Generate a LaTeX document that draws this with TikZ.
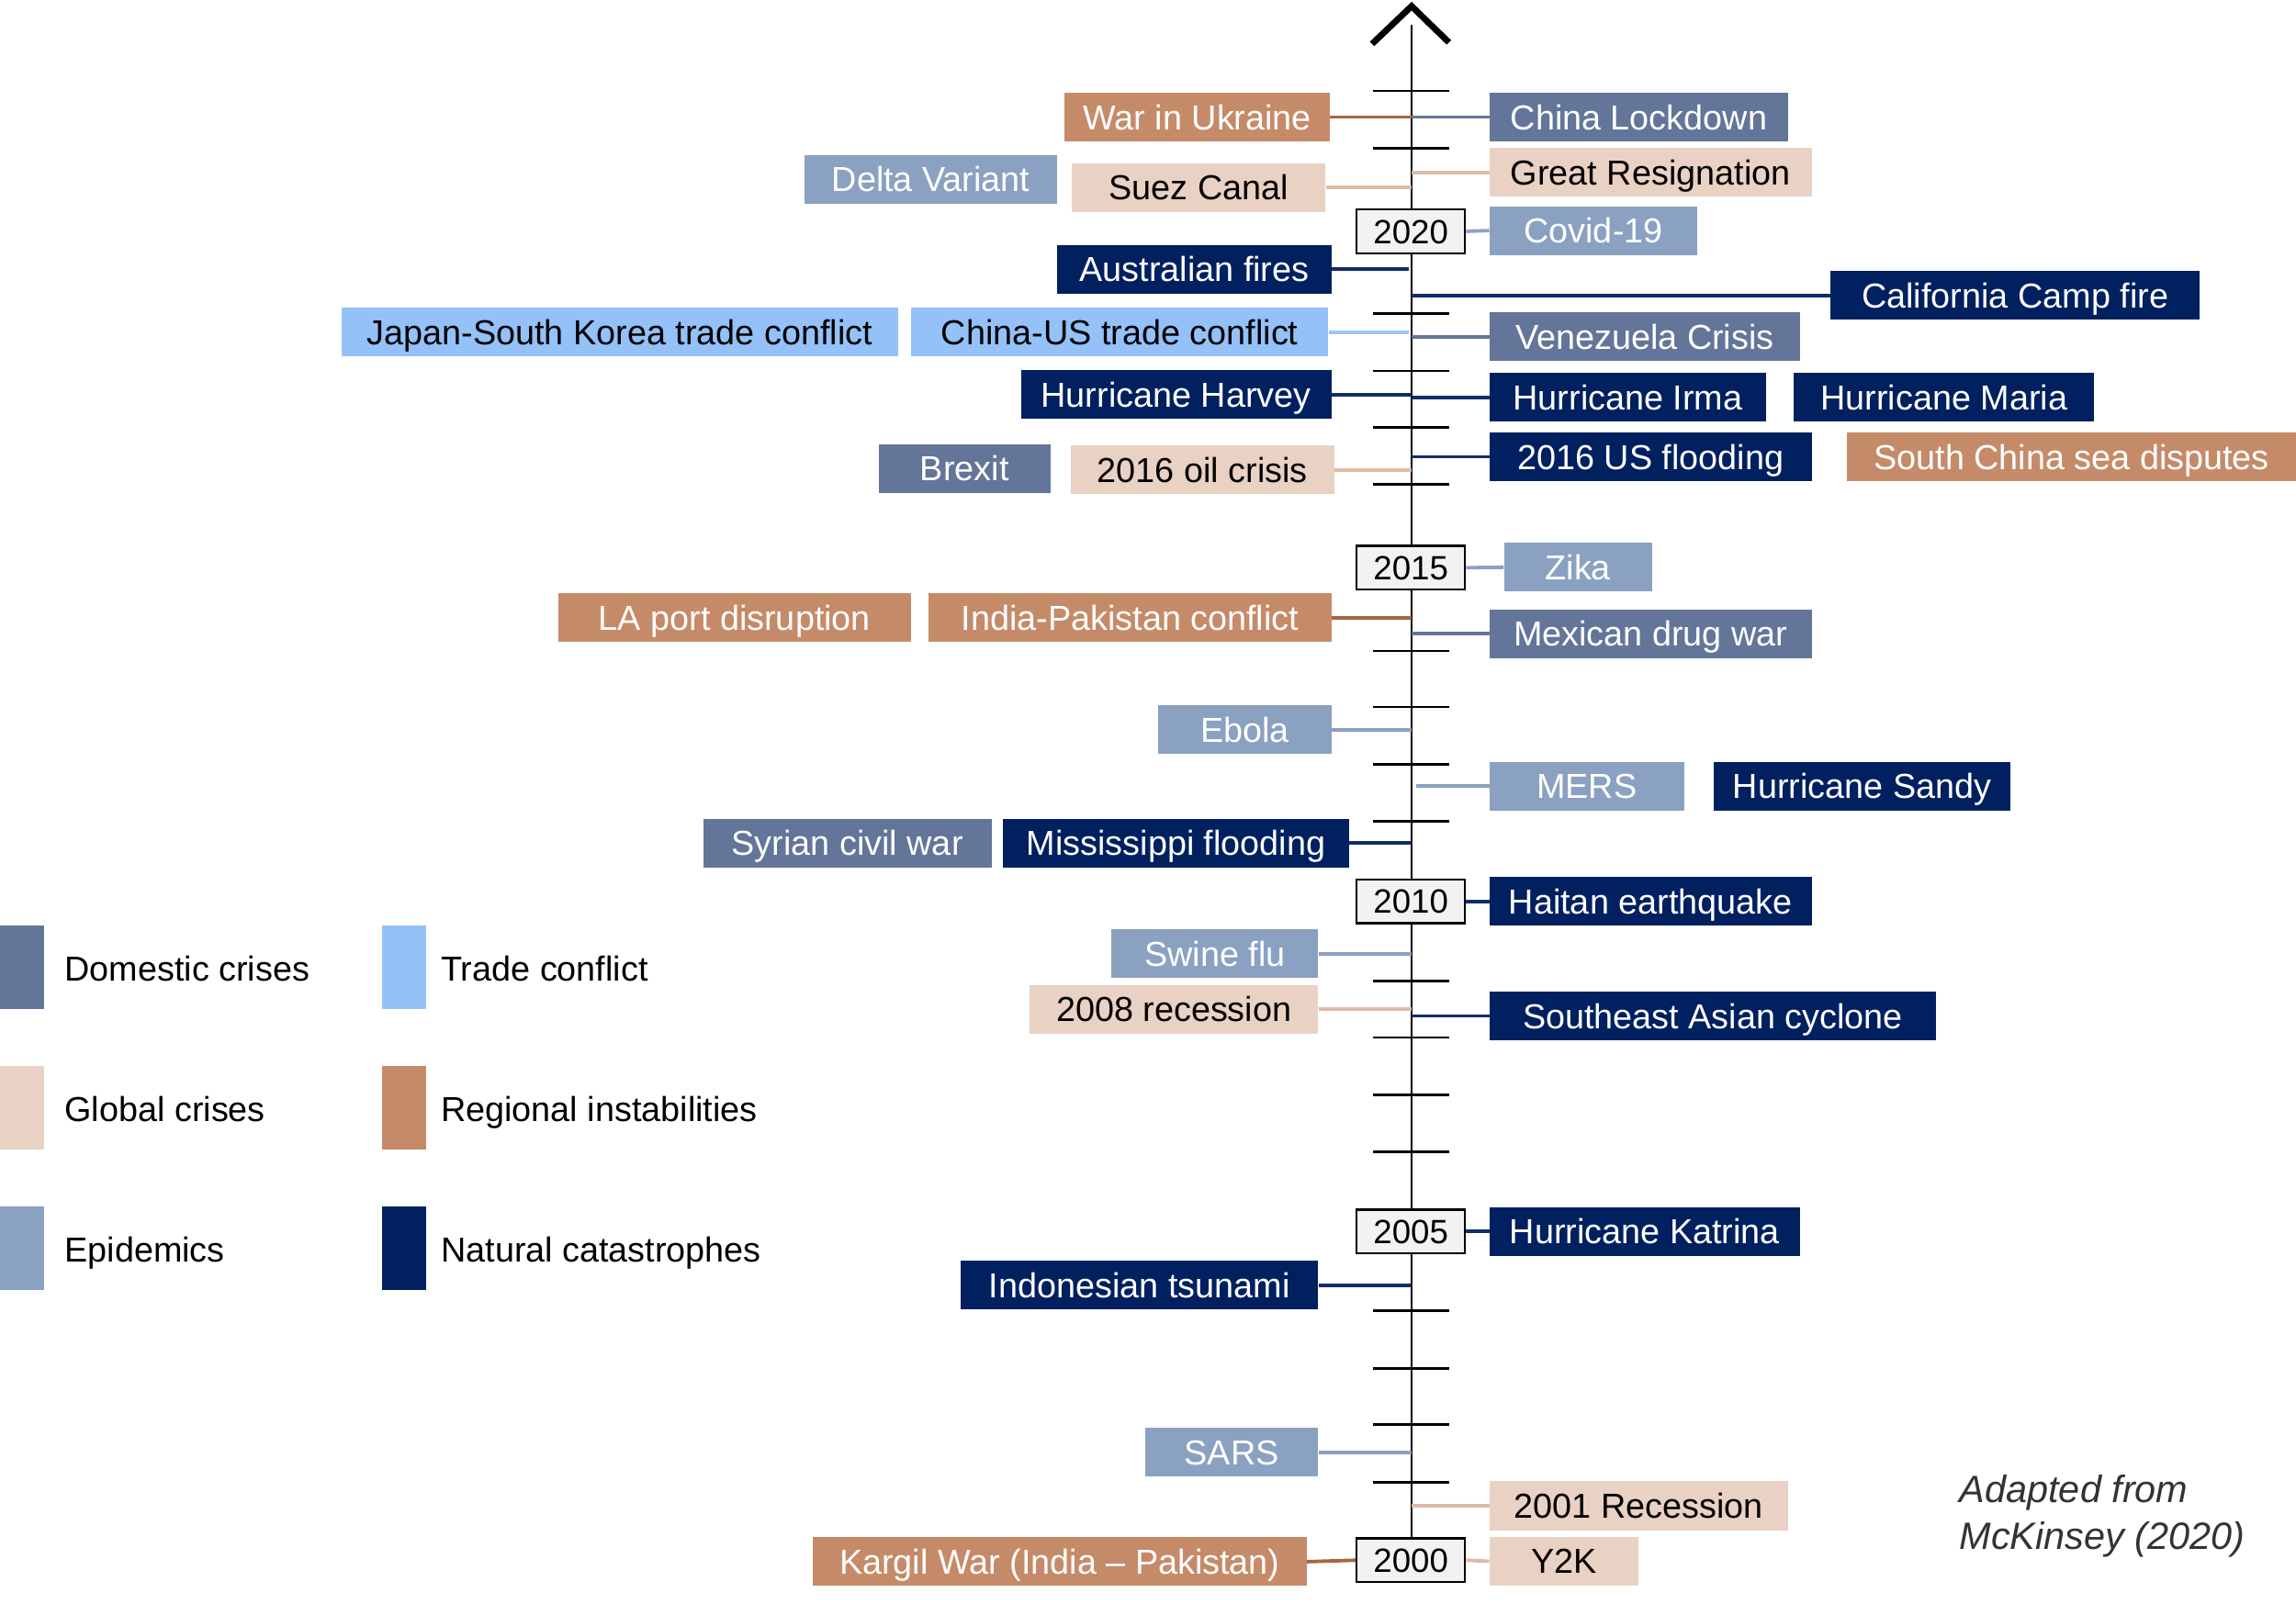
\documentclass[tikz,border=0pt]{standalone}
\usepackage{fontspec}
\setmainfont{Liberation Sans}
\definecolor{cdom}{RGB}{99,117,153}
\definecolor{cglob}{RGB}{233,209,195}
\definecolor{cepi}{RGB}{139,161,193}
\definecolor{ctrade}{RGB}{147,193,248}
\definecolor{creg}{RGB}{197,139,105}
\definecolor{cnat}{RGB}{0,32,96}
\definecolor{lglob}{RGB}{222,186,166}
\definecolor{ltrade}{RGB}{155,200,245}
\definecolor{lreg}{RGB}{166,102,66}
\definecolor{lnat}{RGB}{16,44,106}
\definecolor{cattr}{RGB}{51,51,51}
\tikzset{
  ev/.style={rectangle, inner sep=0pt, minimum height=33.3pt, anchor=west,
    font=\fontsize{23.7}{28}\selectfont, text height=17pt, text depth=0pt},
  dom/.style={ev, fill=cdom, text=white},
  glob/.style={ev, fill=cglob, text=black},
  epi/.style={ev, fill=cepi, text=white},
  trade/.style={ev, fill=ctrade, text=black},
  reg/.style={ev, fill=creg, text=white},
  nat/.style={ev, fill=cnat, text=white},
  conn/.style={line width=2.4pt},
  cdomline/.style={conn, draw=cdom},
  cglobline/.style={conn, draw=lglob},
  cepiline/.style={conn, draw=cepi},
  ctradeline/.style={conn, draw=ltrade},
  cregline/.style={conn, draw=lreg},
  cnatline/.style={conn, draw=lnat},
  yearbox/.style={rectangle, draw=black, line width=1.5pt, fill=black!5,
    minimum width=74pt, minimum height=30pt, inner sep=0pt,
    font=\fontsize{23}{28}\selectfont, text height=16.5pt, text depth=0pt},
  tickline/.style={line width=1.8pt, draw=black},
  legsq/.style={rectangle, inner sep=0pt, minimum width=30pt, minimum height=57pt, anchor=north west},
  legtxt/.style={anchor=west, inner sep=0pt, font=\fontsize{23.7}{28}\selectfont, text height=17pt, text depth=0pt},
  attr/.style={anchor=base west, inner sep=0pt, text=cattr, font=\fontsize{26}{30}\selectfont\itshape}
}
\begin{document}
\begin{tikzpicture}[x=1pt,y=-1pt]
\useasboundingbox (0,0) rectangle (1568,1095.1);
% axis
\coordinate (axtop) at (964,17);
\coordinate (axbot) at (964,1051);
\draw[line width=1.8pt] (axtop) -- (axbot);
\foreach \yy in {62.1,101.4,214.3,253.4,291.9,330.7,444.7,482.9,522.2,560.9,670,708.7,748,786.7,895.4,934.9,973.2,1012.5}
  \draw[tickline] (937.7,\yy) -- (989.7,\yy);
\draw[line width=4.3pt, miter limit=10] (937,30) -- (964,4.2) -- (989.5,29);
% year boxes
\node[yearbox] (y2020) at (963.5,158) {2020};
\node[yearbox] (y2015) at (963.5,387.8) {2015};
\node[yearbox] (y2010) at (963.5,615.7) {2010};
\node[yearbox] (y2005) at (963.5,841.3) {2005};
\node[yearbox] (y2000) at (963.5,1065.8) {2000};
% left events
\node[reg, minimum width=181pt] (war) at (727,80) {War in Ukraine};
\node[epi, minimum width=173pt] (delta) at (549,122.5) {Delta Variant};
\node[glob, minimum width=173pt] (suez) at (732,128) {Suez Canal};
\node[nat, minimum width=187pt] (ausfires) at (722,184) {Australian fires};
\node[trade, minimum width=380pt] (japan) at (233,227) {Japan-South Korea trade conflict};
\node[trade, minimum width=285pt] (chinaus) at (622,227) {China-US trade conflict};
\node[nat, minimum width=212pt] (harvey) at (697,269.5) {Hurricane Harvey};
\node[dom, minimum width=117pt] (brexit) at (600,320) {Brexit};
\node[glob, minimum width=180pt] (oil) at (731,321) {2016 oil crisis};
\node[reg, minimum width=241pt] (laport) at (381,422) {LA port disruption};
\node[reg, minimum width=275pt] (indiapak) at (634,422) {India-Pakistan conflict};
\node[epi, minimum width=118pt] (ebola) at (791,498.5) {Ebola};
\node[dom, minimum width=197pt] (syrian) at (480,576) {Syrian civil war};
\node[nat, minimum width=236pt] (miss) at (685,576) {Mississippi flooding};
\node[epi, minimum width=141pt] (swine) at (759,651.5) {Swine flu};
\node[glob, minimum width=197pt] (rec2008) at (703,689.5) {2008 recession};
\node[nat, minimum width=244pt] (indon) at (656,878) {Indonesian tsunami};
\node[epi, minimum width=118pt] (sars) at (782,992) {SARS};
\node[reg, minimum width=337pt] (kargil) at (555,1066.8) {Kargil War (India -- Pakistan)};
% right events
\node[dom, minimum width=204pt] (chinalock) at (1017,80) {China Lockdown};
\node[glob, minimum width=220pt] (greatres) at (1017,117.7) {Great Resignation};
\node[epi, minimum width=142pt] (covid) at (1017,157.5) {Covid-19};
\node[nat, minimum width=252pt] (calif) at (1250,201.7) {California Camp fire};
\node[dom, minimum width=212pt] (venez) at (1017,230) {Venezuela Crisis};
\node[nat, minimum width=189pt] (irma) at (1017,271.4) {Hurricane Irma};
\node[nat, minimum width=205pt] (maria) at (1225,271.4) {Hurricane Maria};
\node[nat, minimum width=220pt] (usflood) at (1017,312) {2016 US flooding};
\node[reg, minimum width=307pt] (scs) at (1261,312) {South China sea disputes};
\node[epi, minimum width=101pt] (zika) at (1027,387.5) {Zika};
\node[dom, minimum width=220pt] (mexican) at (1017,433) {Mexican drug war};
\node[epi, minimum width=133pt] (mers) at (1017,537) {MERS};
\node[nat, minimum width=203pt] (sandy) at (1170,537) {Hurricane Sandy};
\node[nat, minimum width=220pt] (haitan) at (1017,615.7) {Haitan earthquake};
\node[nat, minimum width=305pt] (seasian) at (1017,694) {Southeast Asian cyclone};
\node[nat, minimum width=212pt] (katrina) at (1017,841.3) {Hurricane Katrina};
\node[glob, minimum width=204pt] (rec2001) at (1017,1028.6) {2001 Recession};
\node[glob, minimum width=102pt] (y2k) at (1017,1066.5) {Y2K};
% left connectors
\draw[cregline] (war.east) -- (war.east -| axtop);
\draw[cglobline] (suez.east) -- (suez.east -| axtop);
\draw[cnatline] (ausfires.east) -- ([xshift=-2pt]ausfires.east -| axtop);
\draw[ctradeline] (chinaus.east) -- ([xshift=-2pt]chinaus.east -| axtop);
\draw[cnatline] (harvey.east) -- (harvey.east -| axtop);
\draw[cglobline] (oil.east) -- (oil.east -| axtop);
\draw[cregline] (indiapak.east) -- (indiapak.east -| axtop);
\draw[cepiline] (ebola.east) -- (ebola.east -| axtop);
\draw[cnatline] (miss.east) -- (miss.east -| axtop);
\draw[cepiline] (swine.east) -- (swine.east -| axtop);
\draw[cglobline] (rec2008.east) -- (rec2008.east -| axtop);
\draw[cnatline] (indon.east) -- (indon.east -| axtop);
\draw[cepiline] (sars.east) -- (sars.east -| axtop);
\draw[cregline] (kargil.east) -- (y2000.west);
% right connectors
\draw[cdomline] (chinalock.west -| axtop) -- (chinalock.west);
\draw[cglobline] (greatres.west -| axtop) -- (greatres.west);
\draw[cepiline] (y2020.east) -- (covid.west);
\draw[cnatline] (calif.west -| axtop) -- (calif.west);
\draw[cdomline] (venez.west -| axtop) -- (venez.west);
\draw[cnatline] (irma.west -| axtop) -- (irma.west);
\draw[cnatline] (usflood.west -| axtop) -- (usflood.west);
\draw[cepiline] (y2015.east) -- (zika.west);
\draw[cdomline] (mexican.west -| axtop) -- (mexican.west);
\draw[cepiline] ([xshift=3pt]mers.west -| axtop) -- (mers.west);
\draw[cnatline] (y2010.east) -- (haitan.west);
\draw[cnatline] (seasian.west -| axtop) -- (seasian.west);
\draw[cnatline] (y2005.east) -- (katrina.west);
\draw[cglobline] (rec2001.west -| axtop) -- (rec2001.west);
\draw[cglobline] (y2000.east) -- (y2k.west);
% legend
\node[legsq, fill=cdom] (lg1) at (0,632) {};
\node[legsq, fill=cglob] (lg2) at (0,728) {};
\node[legsq, fill=cepi] (lg3) at (0,824) {};
\node[legsq, fill=ctrade] (lg4) at (261,632) {};
\node[legsq, fill=creg] (lg5) at (261,728) {};
\node[legsq, fill=cnat] (lg6) at (261,824) {};
\node[legtxt] (lt1) at (44,661.5) {Domestic crises};
\node[legtxt] (lt2) at (44,757.5) {Global crises};
\node[legtxt] (lt3) at (44,853.5) {Epidemics};
\node[legtxt] (lt4) at (301,661.5) {Trade conflict};
\node[legtxt] (lt5) at (301,757.5) {Regional instabilities};
\node[legtxt] (lt6) at (301,853.5) {Natural catastrophes};
% attribution
\node[attr] (at1) at (1338,1026.7) {Adapted from};
\node[attr] (at2) at (1338,1058.3) {McKinsey (2020)};
\end{tikzpicture}
\end{document}
